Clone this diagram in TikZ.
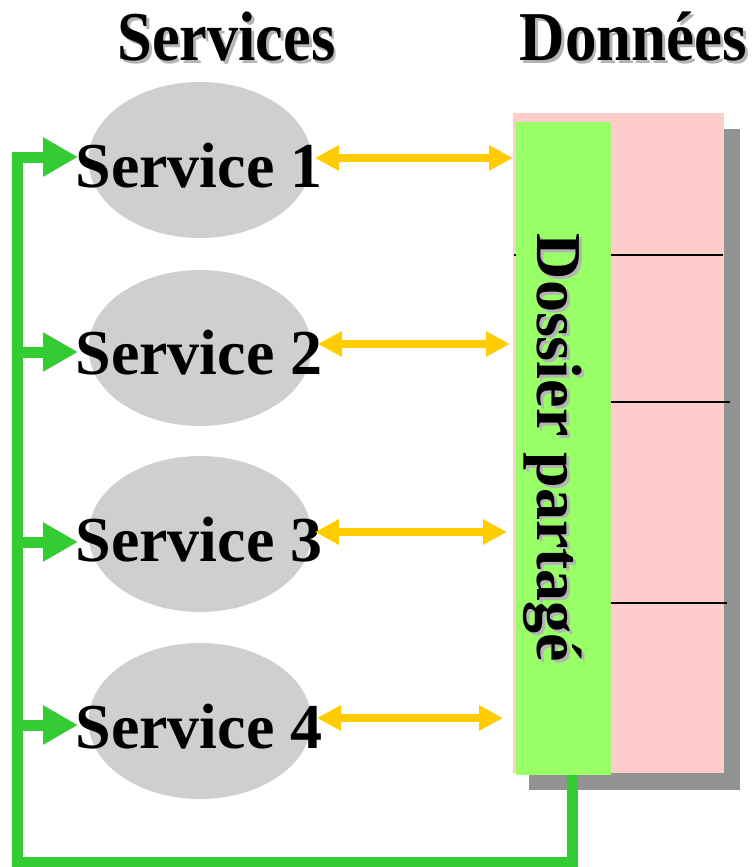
\documentclass[tikz,border=0pt]{standalone}
\usepackage{fontspec}
\setmainfont{Liberation Serif}
\usetikzlibrary{arrows.meta,shapes.geometric}

\definecolor{ovalgray}{HTML}{CFCFCF}
\definecolor{pinkbox}{HTML}{FFCCCC}
\definecolor{greenbox}{HTML}{99FF66}
\definecolor{greenflow}{HTML}{33CC33}
\definecolor{yellowflow}{HTML}{FFCC00}
\definecolor{dropshadow}{HTML}{929292}
\definecolor{textshadow}{HTML}{B4B4B4}

% text with a soft grey drop shadow; #1 = vertical shift of the shadow
\newcommand{\shadowed}[2]{\makebox[0pt][l]{\hspace{3pt}\raisebox{#1}{\color{textshadow}#2}}#2}

\tikzset{
  oval/.style={ellipse, fill=ovalgray, draw=none, minimum width=223pt, minimum height=156pt, inner sep=0pt},
  svclabel/.style={anchor=base, inner sep=0pt, font=\bfseries\fontsize{64}{70}\selectfont},
  heading/.style={anchor=base, inner sep=0pt, font=\bfseries\fontsize{70}{76}\selectfont},
  feed/.style={draw=greenflow, line width=11pt, line join=miter, -{Triangle[length=35pt,width=37pt]}},
  exchange/.style={draw=yellowflow, line width=8pt, {Triangle[length=24pt,width=24pt]}-{Triangle[length=24pt,width=24pt]}},
  divider/.style={draw=black, line width=1.5pt},
}

\begin{document}
\begin{tikzpicture}[x=1pt, y=-1pt]
\useasboundingbox (0,0) rectangle (752,867);

% column headings
\node[heading] (hserv) at (226.5,60) {\scalebox{0.89}[1]{\shadowed{-3pt}{Services}}};
\node[heading] (hdata) at (633.5,60) {\scalebox{0.9}[1]{\shadowed{-3pt}{Données}}};

% data store: shadow, pink area, separators, shared folder
\node[fill=dropshadow, minimum width=211pt, minimum height=661pt, anchor=north west, inner sep=0pt] (store shadow) at (529,129) {};
\node[fill=pinkbox, minimum width=211pt, minimum height=660pt, anchor=north west, inner sep=0pt] (store) at (513,113) {};
\draw[divider] (514,255) -- (723,255);
\draw[divider] (611,402) -- (730,402);
\draw[divider] (611,603) -- (727,603);
\node[fill=greenbox, minimum width=95pt, minimum height=653pt, anchor=north west, inner sep=0pt] (dossier) at (516,122) {};
\node[svclabel, rotate=-90] (dlabel) at (537,448) {\shadowed{3pt}{Dossier partagé}};

% services
\foreach \i/\yc/\yb in {1/160/187, 2/348/374, 3/534/561, 4/721/748}{
  \node[oval] (s\i) at (200,\yc) {};
  \node[svclabel] (l\i) at (199,\yb) {Service \i};
}

% end points of the connectors
\coordinate (trunk) at (572,775);
\coordinate (corner) at (17,862);
\coordinate (g1) at (17,157);
\coordinate (t1) at (78,157);
\coordinate (g2) at (17,352);
\coordinate (t2) at (78,352);
\coordinate (g3) at (17,542);
\coordinate (t3) at (78,542);
\coordinate (g4) at (17,725);
\coordinate (t4) at (78,725);

\coordinate (a1) at (315,158); \coordinate (b1) at (513,158);
\coordinate (a2) at (318,344); \coordinate (b2) at (510,344);
\coordinate (a3) at (315,532); \coordinate (b3) at (507,532);
\coordinate (a4) at (317,718); \coordinate (b4) at (503,718);

% feedback loop from the shared folder to every service
\draw[feed] (trunk) |- (corner) -- (g1) -- (t1);
\draw[feed] (g2) -- (t2);
\draw[feed] (g3) -- (t3);
\draw[feed] (g4) -- (t4);

% exchanges between services and the shared folder
\foreach \i in {1,2,3,4}{
  \draw[exchange] (a\i) -- (b\i);
}
\end{tikzpicture}
\end{document}
